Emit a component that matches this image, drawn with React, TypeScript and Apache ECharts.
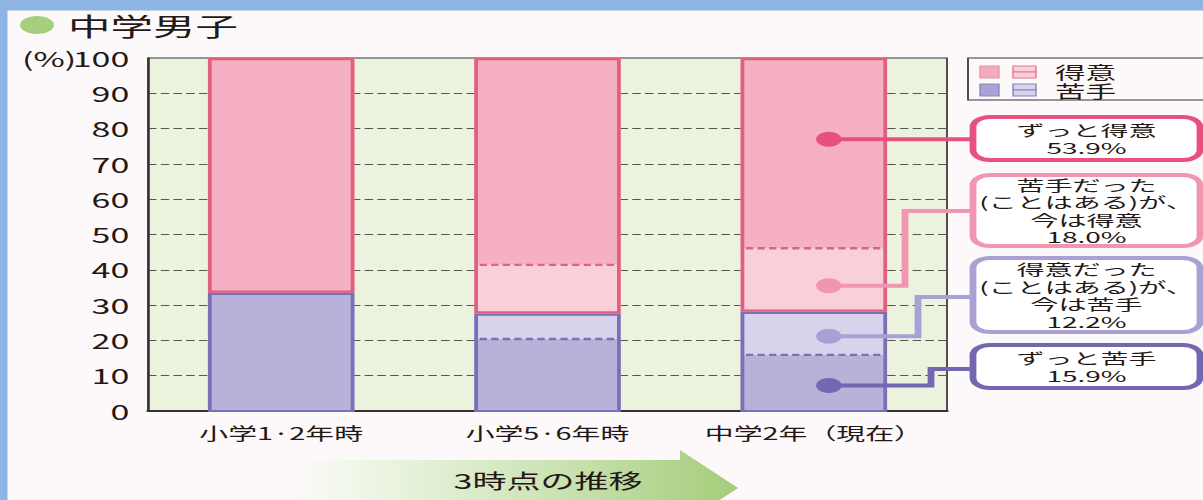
import React, { useEffect, useRef } from "react";
import * as echarts from "echarts";

// ---------- data ----------
const categories = ["小学1·2年時", "小学5·6年時", "中学2年（現在）"];
const alwaysBad = [33.5, 20.4, 15.9]; // ずっと苦手
const nowBad = [0, 7.2, 12.2]; // 得意だった（ことはある）が、今は苦手
const nowGood = [0, 13.8, 18.0]; // 苦手だった（ことはある）が、今は得意
const alwaysGood = [66.5, 58.6, 53.9]; // ずっと得意
const yTicks = { min: 0, max: 100, interval: 10 };

const calloutLabels = [
  "ずっと得意\n53.9%",
  "苦手だった\n(ことはある)が、\n今は得意\n18.0%",
  "得意だった\n(ことはある)が、\n今は苦手\n12.2%",
  "ずっと苦手\n15.9%",
];
const calloutDotValue = [77, 35.5, 21.2, 7.2];
const legendLabels = ["得意", "苦手"];
const titleText = "中学男子";
const arrowText = "3時点の推移";

// ---------- layout helpers (reference image is horizontally stretched) ----------
const W = 708;
const S = 1203 / W;
const px = (x: number) => x / S;
const FONT = '"Noto Sans CJK JP", "Noto Sans", sans-serif';
const INK = "#231815";

const calloutColors = ["#e8517f", "#f096b0", "#a9a1d4", "#7467b1"];
const calloutBend: (number | null)[] = [null, 905, 918, 931];
const calloutEntryY = [139, 211, 297, 369];
const calloutBox = [
  [117, 160],
  [175, 246],
  [258, 332],
  [345, 388],
];

export default function App() {
  const ref = useRef<HTMLDivElement>(null);
  useEffect(() => {
    document.body.style.margin = "0";
    if (!ref.current) return;
    const chart = echarts.init(ref.current, null, { renderer: "svg" });

    const boxLeft = px(973);
    const boxRight = px(1200);
    const graphics: any[] = [
      // blue frame strips
      { type: "rect", shape: { x: 0, y: 0, width: W, height: 10.5 }, style: { fill: "#8db4e2" }, z: 50 },
      { type: "rect", shape: { x: 0, y: 0, width: px(7.5), height: 500 }, style: { fill: "#8db4e2" }, z: 50 },
      // title
      { type: "ellipse", shape: { cx: px(37), cy: 25, rx: 10, ry: 9 }, style: { fill: "#a5cf7d" } },
      {
        type: "text",
        style: { text: titleText, x: px(68), y: 25, align: "left", verticalAlign: "middle", font: `25px ${FONT}`, fill: INK },
      },
      {
        type: "text",
        style: { text: "(%)", x: px(22), y: 58, align: "left", verticalAlign: "middle", font: `20px ${FONT}`, fill: INK },
      },
      // arrow
      {
        type: "polygon",
        shape: {
          points: [
            [px(295), 460],
            [px(680), 460],
            [px(680), 450],
            [px(738), 488],
            [px(680), 526],
            [px(680), 516],
            [px(295), 516],
          ],
        },
        style: {
          fill: new echarts.graphic.LinearGradient(0, 0, 1, 0, [
            { offset: 0, color: "#fdf9f9" },
            { offset: 0.12, color: "#f1f7ea" },
            { offset: 0.55, color: "#cfe5b8" },
            { offset: 1, color: "#a4cc79" },
          ]),
        },
      },
      {
        type: "text",
        style: { text: arrowText, x: px(548), y: 480, align: "center", verticalAlign: "middle", font: `20px ${FONT}`, fill: INK },
      },
      // legend
      {
        type: "rect",
        shape: { x: px(968), y: 58, width: W - px(968) + 4, height: 42 },
        style: { fill: "#fdf9f9", stroke: "#333", lineWidth: 1 },
        z: 100,
      },
      { type: "rect", shape: { x: px(980), y: 66, width: px(999) - px(980), height: 12 }, style: { fill: "#f3abbf", stroke: "#ec93ad", lineWidth: 0.8 }, z: 101 },
      { type: "rect", shape: { x: px(1013), y: 66, width: px(1036) - px(1013), height: 6 }, style: { fill: "#f9d0da", stroke: "#e8759a", lineWidth: 0.8 }, z: 101 },
      { type: "rect", shape: { x: px(1013), y: 72, width: px(1036) - px(1013), height: 6 }, style: { fill: "#f9d0da", stroke: "#e8759a", lineWidth: 0.8 }, z: 101 },
      { type: "rect", shape: { x: px(980), y: 84, width: px(999) - px(980), height: 12 }, style: { fill: "#aaa3d6", stroke: "#8e85c4", lineWidth: 0.8 }, z: 101 },
      { type: "rect", shape: { x: px(1013), y: 84, width: px(1036) - px(1013), height: 6 }, style: { fill: "#d7d3ec", stroke: "#8a80c0", lineWidth: 0.8 }, z: 101 },
      { type: "rect", shape: { x: px(1013), y: 90, width: px(1036) - px(1013), height: 6 }, style: { fill: "#d7d3ec", stroke: "#8a80c0", lineWidth: 0.8 }, z: 101 },
      {
        type: "text",
        x: px(1055),
        y: 71,
        scaleX: 1.06,
        style: { text: legendLabels[0], x: 0, y: 0, align: "left", verticalAlign: "middle", font: `17px ${FONT}`, fill: INK },
        z: 101,
      },
      {
        type: "text",
        x: px(1055),
        y: 90,
        scaleX: 1.06,
        style: { text: legendLabels[1], x: 0, y: 0, align: "left", verticalAlign: "middle", font: `17px ${FONT}`, fill: INK },
        z: 101,
      },
    ];

    calloutLabels.forEach((label, k) => {
      const [t, b] = calloutBox[k];
      const cx = (boxLeft + boxRight) / 2;
      graphics.push({
        type: "rect",
        shape: { x: boxLeft, y: t, width: boxRight - boxLeft, height: b - t, r: 10 },
        style: { fill: "#ffffff", stroke: calloutColors[k], lineWidth: 4 },
        z: 100,
      });
      graphics.push({
        type: "text",
        x: cx,
        y: (t + b) / 2,
        scaleX: 1.1,
        style: {
          text: label,
          x: 0,
          y: 0,
          align: "center",
          verticalAlign: "middle",
          font: `15px ${FONT}`,
          lineHeight: 17.5,
          fill: INK,
        },
        z: 101,
      });
    });

    const overlay = (params: any, api: any) => {
      const i = api.value(0);
      const [cx, y0] = api.coord([i, 0]);
      const yTop = api.coord([i, 100])[1];
      const band = api.size([1, 0])[0];
      const w = band * 0.55;
      const x0 = cx - w / 2;
      const bad = alwaysBad[i] + nowBad[i];
      const yBad = api.coord([i, bad])[1];
      const yAB = api.coord([i, alwaysBad[i]])[1];
      const yNG = api.coord([i, bad + nowGood[i]])[1];
      const lw = 2.2;
      const children: any[] = [
        {
          type: "rect",
          shape: { x: x0 + lw / 2, y: yBad + lw / 2, width: w - lw, height: y0 - yBad - lw / 2 },
          style: { fill: "none", stroke: "#7b70b5", lineWidth: lw },
        },
        {
          type: "rect",
          shape: { x: x0 + lw / 2, y: yTop + lw / 2, width: w - lw, height: yBad - yTop - lw },
          style: { fill: "none", stroke: "#e0607f", lineWidth: lw },
        },
      ];
      if (nowBad[i] > 0) {
        children.push({
          type: "line",
          shape: { x1: x0 + lw + 1, y1: yAB, x2: x0 + w - lw - 1, y2: yAB },
          style: { stroke: "#7b70b5", lineWidth: 2.4, lineDash: [4.2, 2.6] },
        });
      }
      if (nowGood[i] > 0) {
        children.push({
          type: "line",
          shape: { x1: x0 + lw + 1, y1: yNG, x2: x0 + w - lw - 1, y2: yNG },
          style: { stroke: "#e0608a", lineWidth: 2.4, lineDash: [4.2, 2.6] },
        });
      }
      return { type: "group", children };
    };

    const callouts = (params: any, api: any) => {
      const k = params.dataIndex;
      const [x, y] = api.coord([api.value(0), api.value(1)]);
      const dotX = x + px(15);
      const end = px(976);
      const bx = calloutBend[k];
      const pts =
        bx == null
          ? [
              [dotX, y],
              [end, y],
            ]
          : [
              [dotX, y],
              [px(bx), y],
              [px(bx), calloutEntryY[k]],
              [end, calloutEntryY[k]],
            ];
      return {
        type: "group",
        children: [
          { type: "polyline", shape: { points: pts }, style: { stroke: calloutColors[k], lineWidth: 4, fill: "none" } },
          { type: "circle", shape: { cx: dotX, cy: y, r: 7.5 }, style: { fill: calloutColors[k] } },
        ],
      };
    };

    chart.setOption({
      animation: false,
      backgroundColor: "#fdf8f9",
      textStyle: { fontFamily: FONT },
      grid: {
        left: px(148),
        right: W - px(947),
        top: 58,
        bottom: 89,
        show: true,
        backgroundColor: "#ebf3df",
        borderColor: "#333",
        borderWidth: 1,
      },
      xAxis: {
        type: "category",
        data: categories,
        axisTick: { show: false },
        axisLine: { lineStyle: { color: "#333", width: 2 } },
        axisLabel: { fontSize: 17, color: INK, margin: 13, fontFamily: FONT, interval: 0 },
        splitLine: { show: false },
      },
      yAxis: {
        type: "value",
        min: yTicks.min,
        max: yTicks.max,
        interval: yTicks.interval,
        axisLine: { show: true, lineStyle: { color: "#333", width: 1.3 } },
        axisTick: { show: false },
        axisLabel: { fontSize: 20, color: INK, margin: 11, fontFamily: FONT },
        splitLine: {
          show: true,
          showMinLine: false,
          showMaxLine: false,
          lineStyle: { color: "#555", type: [5, 2.5], width: 1 },
        },
      },
      series: [
        { type: "bar", name: "ずっと苦手", stack: "s", data: alwaysBad, barWidth: "55%", itemStyle: { color: "#b8b1d9" } },
        { type: "bar", name: "今は苦手", stack: "s", data: nowBad, itemStyle: { color: "#d7d3ec" } },
        { type: "bar", name: "今は得意", stack: "s", data: nowGood, itemStyle: { color: "#f9d0da" } },
        { type: "bar", name: "ずっと得意", stack: "s", data: alwaysGood, itemStyle: { color: "#f5b0c3" } },
        {
          type: "custom",
          name: "outline",
          renderItem: overlay,
          data: categories.map((_, i) => [i, 0]),
          encode: { x: 0, y: 1 },
          z: 5,
          silent: true,
        },
        {
          type: "custom",
          name: "callouts",
          renderItem: callouts,
          data: calloutDotValue.map((v) => [categories.length - 1, v]),
          encode: { x: 0, y: 1 },
          z: 6,
          silent: true,
        },
      ],
      graphic: { elements: graphics },
    });
    return () => chart.dispose();
  }, []);

  return (
    <div style={{ width: 1203, height: 500, overflow: "hidden", position: "relative" }}>
      <div
        ref={ref}
        style={{ width: W, height: 500, transform: `scaleX(${S})`, transformOrigin: "0 0" }}
      />
    </div>
  );
}
